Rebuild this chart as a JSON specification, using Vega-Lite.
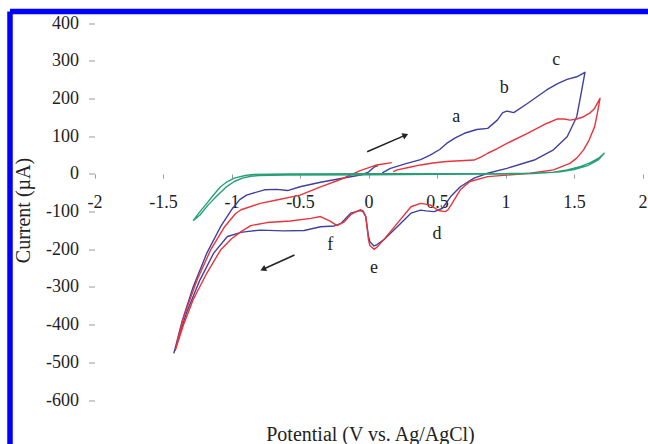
{
  "$schema": "https://vega.github.io/schema/vega-lite/v6.json",
  "width": 638,
  "height": 432.5,
  "autosize": {"type": "none"},
  "padding": {"left": 10, "top": 11.5, "right": 0, "bottom": 0},
  "background": "white",
  "config": {
    "view": {"stroke": "#0000ff", "strokeWidth": 5.5, "strokeDash": [638, 1070.5, 432.5, 0]},
    "font": "Liberation Serif",
    "axis": {
      "labelFont": "Liberation Serif", "labelFontSize": 18, "labelColor": "#222222",
      "titleFont": "Liberation Serif", "titleFontSize": 20, "titleFontWeight": "normal", "titleColor": "#222222",
      "tickColor": "#999999", "domain": false, "grid": false
    }
  },
  "datasets": {
    "curves": [
      {"s":"blue","i":0,"v":0.10,"c":3},{"s":"blue","i":1,"v":0.16,"c":15},{"s":"blue","i":2,"v":0.28,"c":28},{"s":"blue","i":3,"v":0.38,"c":38},{"s":"blue","i":4,"v":0.45,"c":50},{"s":"blue","i":5,"v":0.52,"c":65},{"s":"blue","i":6,"v":0.57,"c":81},{"s":"blue","i":7,"v":0.63,"c":95},{"s":"blue","i":8,"v":0.70,"c":108},{"s":"blue","i":9,"v":0.79,"c":118},{"s":"blue","i":10,"v":0.87,"c":121},{"s":"blue","i":11,"v":0.94,"c":143},{"s":"blue","i":12,"v":0.98,"c":163},{"s":"blue","i":13,"v":1.01,"c":167},{"s":"blue","i":14,"v":1.06,"c":163},{"s":"blue","i":15,"v":1.16,"c":187},{"s":"blue","i":16,"v":1.30,"c":223},{"s":"blue","i":17,"v":1.38,"c":240},{"s":"blue","i":18,"v":1.45,"c":251},{"s":"blue","i":19,"v":1.52,"c":258},{"s":"blue","i":20,"v":1.58,"c":270},
      {"s":"blue","i":21,"v":1.55,"c":210},{"s":"blue","i":22,"v":1.52,"c":152},{"s":"blue","i":23,"v":1.45,"c":99},{"s":"blue","i":24,"v":1.35,"c":64},{"s":"blue","i":25,"v":1.21,"c":37},{"s":"blue","i":26,"v":1.01,"c":15},{"s":"blue","i":27,"v":0.87,"c":2},{"s":"blue","i":28,"v":0.77,"c":-11},{"s":"blue","i":29,"v":0.67,"c":-34},{"s":"blue","i":30,"v":0.60,"c":-60},{"s":"blue","i":31,"v":0.54,"c":-91},{"s":"blue","i":32,"v":0.48,"c":-100},{"s":"blue","i":33,"v":0.42,"c":-98},{"s":"blue","i":34,"v":0.38,"c":-96},{"s":"blue","i":35,"v":0.31,"c":-104},{"s":"blue","i":36,"v":0.21,"c":-140},{"s":"blue","i":37,"v":0.11,"c":-175},{"s":"blue","i":38,"v":0.06,"c":-188},{"s":"blue","i":39,"v":0.04,"c":-191},{"s":"blue","i":40,"v":0.01,"c":-180},{"s":"blue","i":41,"v":0.0,"c":-166},{"s":"blue","i":42,"v":-0.02,"c":-113},{"s":"blue","i":43,"v":-0.04,"c":-100},{"s":"blue","i":44,"v":-0.06,"c":-97},{"s":"blue","i":45,"v":-0.09,"c":-100},{"s":"blue","i":46,"v":-0.13,"c":-104},{"s":"blue","i":47,"v":-0.20,"c":-131},{"s":"blue","i":48,"v":-0.25,"c":-138},{"s":"blue","i":49,"v":-0.35,"c":-140},{"s":"blue","i":50,"v":-0.47,"c":-150},{"s":"blue","i":51,"v":-0.62,"c":-151},{"s":"blue","i":52,"v":-0.79,"c":-149},{"s":"blue","i":53,"v":-0.89,"c":-153},{"s":"blue","i":54,"v":-0.93,"c":-155},{"s":"blue","i":55,"v":-1.03,"c":-166},{"s":"blue","i":56,"v":-1.13,"c":-210},{"s":"blue","i":57,"v":-1.23,"c":-281},{"s":"blue","i":58,"v":-1.33,"c":-370},{"s":"blue","i":59,"v":-1.42,"c":-475},
      {"s":"blue","i":60,"v":-1.36,"c":-390},{"s":"blue","i":61,"v":-1.28,"c":-300},{"s":"blue","i":62,"v":-1.18,"c":-210},{"s":"blue","i":63,"v":-1.08,"c":-140},{"s":"blue","i":64,"v":-1.0,"c":-95},{"s":"blue","i":65,"v":-0.94,"c":-68},{"s":"blue","i":66,"v":-0.89,"c":-56},{"s":"blue","i":67,"v":-0.76,"c":-42},{"s":"blue","i":68,"v":-0.67,"c":-41},{"s":"blue","i":69,"v":-0.59,"c":-44},{"s":"blue","i":70,"v":-0.50,"c":-34},{"s":"blue","i":71,"v":-0.35,"c":-22},{"s":"blue","i":72,"v":-0.20,"c":-12},{"s":"blue","i":73,"v":-0.05,"c":-2},{"s":"blue","i":74,"v":0.0,"c":5},{"s":"blue","i":75,"v":0.04,"c":18},{"s":"blue","i":76,"v":0.07,"c":22},
      {"s":"red","i":0,"v":0.18,"c":6},{"s":"red","i":1,"v":0.21,"c":11},{"s":"red","i":2,"v":0.30,"c":18},{"s":"red","i":3,"v":0.38,"c":24},{"s":"red","i":4,"v":0.47,"c":29},{"s":"red","i":5,"v":0.57,"c":33},{"s":"red","i":6,"v":0.67,"c":35},{"s":"red","i":7,"v":0.77,"c":37},{"s":"red","i":8,"v":0.82,"c":45},{"s":"red","i":9,"v":0.87,"c":55},{"s":"red","i":10,"v":0.94,"c":67},{"s":"red","i":11,"v":1.01,"c":81},{"s":"red","i":12,"v":1.16,"c":108},{"s":"red","i":13,"v":1.30,"c":134},{"s":"red","i":14,"v":1.38,"c":146},{"s":"red","i":15,"v":1.43,"c":146},{"s":"red","i":16,"v":1.47,"c":143},{"s":"red","i":17,"v":1.52,"c":146},{"s":"red","i":18,"v":1.57,"c":152},{"s":"red","i":19,"v":1.62,"c":163},{"s":"red","i":20,"v":1.65,"c":174},{"s":"red","i":21,"v":1.69,"c":201},
      {"s":"red","i":22,"v":1.67,"c":160},{"s":"red","i":23,"v":1.65,"c":125},{"s":"red","i":24,"v":1.61,"c":90},{"s":"red","i":25,"v":1.57,"c":64},{"s":"red","i":26,"v":1.52,"c":42},{"s":"red","i":27,"v":1.47,"c":28},{"s":"red","i":28,"v":1.35,"c":11},{"s":"red","i":29,"v":1.18,"c":2},{"s":"red","i":30,"v":1.01,"c":-3},{"s":"red","i":31,"v":0.87,"c":-7},{"s":"red","i":32,"v":0.74,"c":-20},{"s":"red","i":33,"v":0.67,"c":-42},{"s":"red","i":34,"v":0.61,"c":-78},{"s":"red","i":35,"v":0.58,"c":-95},{"s":"red","i":36,"v":0.56,"c":-100},{"s":"red","i":37,"v":0.51,"c":-97},{"s":"red","i":38,"v":0.45,"c":-82},{"s":"red","i":39,"v":0.38,"c":-78},{"s":"red","i":40,"v":0.31,"c":-87},{"s":"red","i":41,"v":0.21,"c":-131},{"s":"red","i":42,"v":0.11,"c":-175},{"s":"red","i":43,"v":0.06,"c":-195},{"s":"red","i":44,"v":0.04,"c":-200},{"s":"red","i":45,"v":0.01,"c":-190},{"s":"red","i":46,"v":0.0,"c":-175},{"s":"red","i":47,"v":-0.02,"c":-113},{"s":"red","i":48,"v":-0.04,"c":-98},{"s":"red","i":49,"v":-0.06,"c":-95},{"s":"red","i":50,"v":-0.09,"c":-100},{"s":"red","i":51,"v":-0.13,"c":-108},{"s":"red","i":52,"v":-0.18,"c":-128},{"s":"red","i":53,"v":-0.23,"c":-137},{"s":"red","i":54,"v":-0.28,"c":-125},{"s":"red","i":55,"v":-0.35,"c":-113},{"s":"red","i":56,"v":-0.42,"c":-118},{"s":"red","i":57,"v":-0.57,"c":-125},{"s":"red","i":58,"v":-0.74,"c":-129},{"s":"red","i":59,"v":-0.86,"c":-137},{"s":"red","i":60,"v":-0.93,"c":-153},{"s":"red","i":61,"v":-1.0,"c":-172},{"s":"red","i":62,"v":-1.08,"c":-202},{"s":"red","i":63,"v":-1.18,"c":-263},{"s":"red","i":64,"v":-1.28,"c":-334},{"s":"red","i":65,"v":-1.35,"c":-400},{"s":"red","i":66,"v":-1.41,"c":-468},
      {"s":"red","i":67,"v":-1.35,"c":-380},{"s":"red","i":68,"v":-1.25,"c":-280},{"s":"red","i":69,"v":-1.15,"c":-200},{"s":"red","i":70,"v":-1.05,"c":-140},{"s":"red","i":71,"v":-0.97,"c":-105},{"s":"red","i":72,"v":-0.93,"c":-95},{"s":"red","i":73,"v":-0.79,"c":-78},{"s":"red","i":74,"v":-0.67,"c":-69},{"s":"red","i":75,"v":-0.50,"c":-56},{"s":"red","i":76,"v":-0.35,"c":-34},{"s":"red","i":77,"v":-0.20,"c":-14},{"s":"red","i":78,"v":-0.06,"c":9},{"s":"red","i":79,"v":0.06,"c":24},{"s":"red","i":80,"v":0.17,"c":30},
      {"s":"green","i":0,"v":-1.28,"c":-124},{"s":"green","i":1,"v":-1.23,"c":-100},{"s":"green","i":2,"v":-1.18,"c":-78},{"s":"green","i":3,"v":-1.13,"c":-55},{"s":"green","i":4,"v":-1.08,"c":-34},{"s":"green","i":5,"v":-1.03,"c":-20},{"s":"green","i":6,"v":-0.98,"c":-11},{"s":"green","i":7,"v":-0.90,"c":-4},{"s":"green","i":8,"v":-0.84,"c":-1},{"s":"green","i":9,"v":-0.60,"c":0},{"s":"green","i":10,"v":0.0,"c":1},{"s":"green","i":11,"v":0.5,"c":1},{"s":"green","i":12,"v":1.0,"c":1},{"s":"green","i":13,"v":1.2,"c":2},{"s":"green","i":14,"v":1.35,"c":5},{"s":"green","i":15,"v":1.45,"c":11},{"s":"green","i":16,"v":1.55,"c":20},{"s":"green","i":17,"v":1.62,"c":30},{"s":"green","i":18,"v":1.68,"c":42},{"s":"green","i":19,"v":1.72,"c":55},
      {"s":"green","i":20,"v":1.68,"c":38},{"s":"green","i":21,"v":1.60,"c":22},{"s":"green","i":22,"v":1.50,"c":12},{"s":"green","i":23,"v":1.40,"c":6},{"s":"green","i":24,"v":1.2,"c":1},{"s":"green","i":25,"v":1.0,"c":0},{"s":"green","i":26,"v":0.5,"c":-1},{"s":"green","i":27,"v":0.0,"c":-2},{"s":"green","i":28,"v":-0.6,"c":-3},{"s":"green","i":29,"v":-0.80,"c":-4},{"s":"green","i":30,"v":-0.86,"c":-6},{"s":"green","i":31,"v":-0.92,"c":-11},{"s":"green","i":32,"v":-0.98,"c":-20},{"s":"green","i":33,"v":-1.04,"c":-35},{"s":"green","i":34,"v":-1.10,"c":-56},{"s":"green","i":35,"v":-1.17,"c":-82},{"s":"green","i":36,"v":-1.23,"c":-109},{"s":"green","i":37,"v":-1.28,"c":-124}
    ],
    "labels": [
      {"t":"a","v":0.64,"c":151},{"t":"b","v":0.99,"c":228},{"t":"c","v":1.37,"c":302},
      {"t":"d","v":0.50,"c":-159},{"t":"e","v":0.04,"c":-249},{"t":"f","v":-0.28,"c":-188}
    ],
    "arrows": [
      {"k":"up","v":-0.01,"c":59,"v2":0.27,"c2":103},
      {"k":"down","v":-0.54,"c":-215,"v2":-0.77,"c2":-253}
    ]
  },
  "encoding": {
    "x": {"field":"v","type":"quantitative",
      "scale":{"domain":[-2.6168,2.0401],"nice":false,"zero":false},
      "axis":{"values":[-2,-1.5,-1,-0.5,0,0.5,1,1.5,2],"labelExpr":"'' + datum.value","offset":-270,"tickSize":4,"labelPadding":15,
        "title":"Potential (V vs. Ag/AgCl)","titleX":360,"titleY":266,"titleBaseline":"alphabetic","titleAnchor":null,"titleAlign":"center"}},
    "y": {"field":"c","type":"quantitative",
      "scale":{"domain":[-716.8,431.3],"nice":false,"zero":false},
      "axis":{"values":[-600,-500,-400,-300,-200,-100,0,100,200,300,400],"labelExpr":"'' + datum.value","offset":-84.5,"tickSize":6,"labelPadding":10,
        "title":"Current (µA)","titleX":-71.5,"titleY":198.5,"titleBaseline":"middle","titleAlign":"center","titleAngle":-90}}
  },
  "layer": [
    {"mark":{"type":"rule","color":"#999999","strokeWidth":1},
     "encoding":{"x":{"datum":-2,"type":"quantitative"},"y":{"datum":-600,"type":"quantitative"},"y2":{"datum":400}}},
    {"mark":{"type":"rule","color":"#999999","strokeWidth":1},
     "encoding":{"x":{"datum":-2,"type":"quantitative"},"x2":{"datum":2},"y":{"datum":0,"type":"quantitative"}}},
    {"data":{"name":"curves"},
     "mark":{"type":"line","strokeWidth":1.4,"interpolate":"linear","strokeJoin":"round"},
     "encoding":{
       "order":{"field":"i","type":"quantitative"},
       "color":{"field":"s","type":"nominal","scale":{"domain":["blue","red","green"],"range":["#40409e","#e8343c","#25a078"]},"legend":null}}},
    {"data":{"name":"labels"},
     "mark":{"type":"text","font":"Liberation Serif","fontSize":18,"color":"#222222","baseline":"middle","align":"center"},
     "encoding":{"text":{"field":"t"}}},
    {"data":{"name":"arrows"},
     "mark":{"type":"rule","color":"#222222","strokeWidth":1.5},
     "encoding":{"x2":{"field":"v2"},"y2":{"field":"c2"}}},
    {"data":{"name":"arrows"},
     "transform":[{"filter":"datum.k === 'up'"}],
     "mark":{"type":"point","shape":"triangle-up","filled":true,"color":"#222222","size":45,"angle":66,"opacity":1},
     "encoding":{"x":{"field":"v2","type":"quantitative"},"y":{"field":"c2","type":"quantitative"}}},
    {"data":{"name":"arrows"},
     "transform":[{"filter":"datum.k === 'down'"}],
     "mark":{"type":"point","shape":"triangle-up","filled":true,"color":"#222222","size":45,"angle":245,"opacity":1},
     "encoding":{"x":{"field":"v2","type":"quantitative"},"y":{"field":"c2","type":"quantitative"}}}
  ]
}
